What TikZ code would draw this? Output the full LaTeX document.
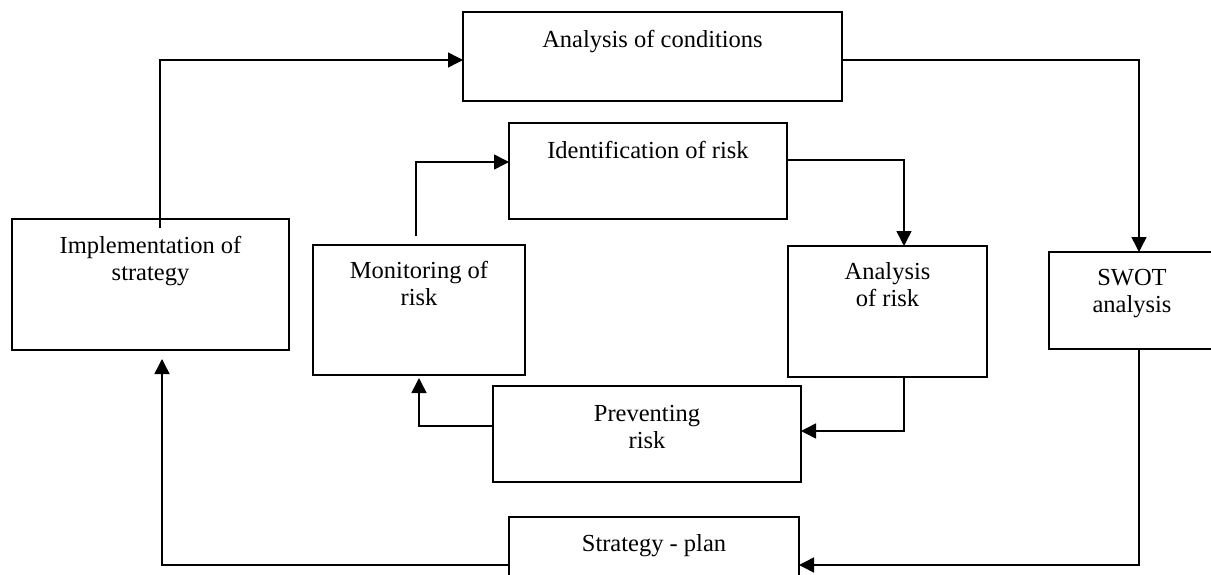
\documentclass[tikz,border=0pt]{standalone}
\usepackage{fontspec}
\setmainfont{Liberation Serif}
\usetikzlibrary{arrows.meta}
\begin{document}
\begin{tikzpicture}[x=1pt,y=-1pt,
  box/.style={draw,line width=1.6pt,inner sep=0pt,outer sep=0pt,anchor=north west},
  lbl/.style={anchor=north,align=center,inner sep=0pt,outer sep=0pt,font=\fontsize{24.5}{27}\selectfont},
  arr/.style={line width=1.5pt,-{Triangle[length=15pt,width=15pt]}}]
\useasboundingbox (0,0) rectangle (1211,575);
\clip (0,0) rectangle (1211,575);
% boxes
\node[box,minimum width=379pt,minimum height=89pt] (cond) at (463,12) {};
\node[box,minimum width=278pt,minimum height=96pt] (ident) at (509,123) {};
\node[box,minimum width=277pt,minimum height=131pt] (impl) at (12,219) {};
\node[box,minimum width=212pt,minimum height=130pt] (mon) at (313,245) {};
\node[box,minimum width=199pt,minimum height=131pt] (anr) at (788,246) {};
\node[box,minimum width=180pt,minimum height=97pt] (swot) at (1049,252) {};
\node[box,minimum width=308pt,minimum height=96pt] (prev) at (493,386) {};
\node[box,minimum width=290pt,minimum height=96pt] (plan) at (509,517) {};
% labels
\node[lbl] (condT) at ([yshift=-18pt]cond.north) {Analysis of conditions};
\node[lbl] (identT) at ([yshift=-18pt]ident.north) {Identification of risk};
\node[lbl] (implT) at ([yshift=-17pt]impl.north) {Implementation of\\strategy};
\node[lbl] (monT) at ([yshift=-16pt]mon.north) {Monitoring of\\risk};
\node[lbl] (anrT) at ([yshift=-16pt]anr.north) {Analysis\\of risk};
\node[lbl] (swotT) at ([xshift=-7pt,yshift=-17pt]swot.north) {SWOT\\analysis};
\node[lbl] (prevT) at ([yshift=-19pt]prev.north) {Preventing\\risk};
\node[lbl] (planT) at ([yshift=-17pt]plan.north) {Strategy - plan};
% outer cycle
\draw[arr] ([xshift=9.5pt,yshift=-9pt]impl.north) |- ([yshift=-3.5pt]cond.west);
\draw[arr] ([yshift=-3.5pt]cond.east) -| (swot.north);
\draw[arr] (swot.south) |- (plan.east);
\draw[arr] (plan.west) -| ([xshift=11.5pt,yshift=-9pt]impl.south);
% inner cycle
\draw[arr] ([xshift=-3pt,yshift=9pt]mon.north) |- ([yshift=9pt]ident.west);
\draw[arr] ([yshift=11pt]ident.east) -| ([xshift=16.5pt]anr.north);
\draw[arr] ([xshift=16.5pt]anr.south) |- ([yshift=3pt]prev.east);
\draw[arr] ([yshift=8pt]prev.west) -| ([yshift=-3pt]mon.south);
\end{tikzpicture}
\end{document}
